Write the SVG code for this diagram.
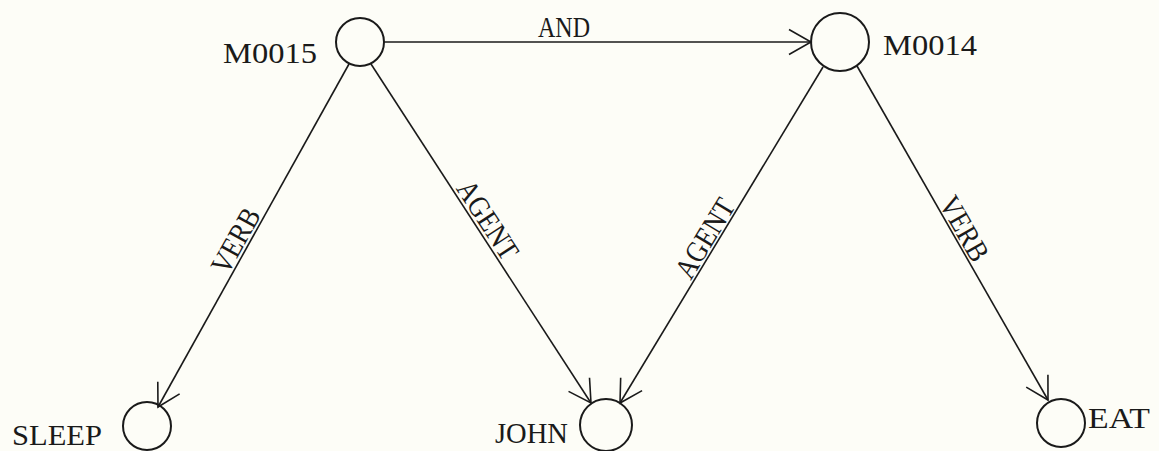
<svg xmlns="http://www.w3.org/2000/svg" width="1159" height="451" viewBox="0 0 1159 451">
<defs>
<style>
.node circle{fill:none;stroke:#1a1a1a;stroke-width:2}
text{font-family:"Liberation Serif","Times New Roman",serif;font-size:30px;fill:#1a1a1a}
.edge line{stroke:#1a1a1a;stroke-width:1.6;fill:none}
.lbl{text-anchor:middle}
</style>
<marker id="arr" markerUnits="userSpaceOnUse" markerWidth="30" markerHeight="30" viewBox="-26 -15 30 30" refX="0" refY="0" orient="auto">
<path d="M-22,-12.5 L0,0 L-22,12.5" fill="none" stroke="#1a1a1a" stroke-width="1.6"/>
</marker>
</defs>
<rect width="1159" height="451" fill="#fdfdf7"/>
<g id="connectors" class="edge">
<line x1="384" y1="42" x2="811" y2="42" marker-end="url(#arr)"/>
<line x1="349" y1="64" x2="158" y2="407" marker-end="url(#arr)"/>
<line x1="371" y1="64" x2="591" y2="403" marker-end="url(#arr)"/>
<line x1="823" y1="67" x2="620" y2="403" marker-end="url(#arr)"/>
<line x1="857" y1="66" x2="1048" y2="400" marker-end="url(#arr)"/>
<text x="538" y="37" textLength="52" lengthAdjust="spacingAndGlyphs" font-size="28">AND</text>
<text class="lbl" transform="translate(247,247) rotate(-60.8)" dy="-3" textLength="70" lengthAdjust="spacingAndGlyphs">VERB</text>
<text class="lbl" transform="translate(477,227) rotate(56.9)" dy="-3" textLength="88" lengthAdjust="spacingAndGlyphs">AGENT</text>
<text class="lbl" transform="translate(716,245) rotate(-58.8)" dy="-3" textLength="88" lengthAdjust="spacingAndGlyphs">AGENT</text>
<text class="lbl" transform="translate(953,235) rotate(60.2)" dy="-3" textLength="70" lengthAdjust="spacingAndGlyphs">VERB</text>
</g>
<g id="M0015" class="node"><circle cx="360" cy="42" r="24"/><text x="223" y="63" textLength="94" lengthAdjust="spacingAndGlyphs">M0015</text></g>
<g id="M0014" class="node"><circle cx="840" cy="42" r="29"/><text x="883" y="55" textLength="94" lengthAdjust="spacingAndGlyphs">M0014</text></g>
<g id="SLEEP" class="node"><circle cx="147" cy="426" r="24"/><text x="12" y="445" textLength="90" lengthAdjust="spacingAndGlyphs">SLEEP</text></g>
<g id="JOHN" class="node"><circle cx="606" cy="425" r="26"/><text x="495" y="443" textLength="73" lengthAdjust="spacingAndGlyphs">JOHN</text></g>
<g id="EAT" class="node"><circle cx="1061" cy="423" r="24"/><text x="1088" y="428" textLength="62" lengthAdjust="spacingAndGlyphs">EAT</text></g>
</svg>
